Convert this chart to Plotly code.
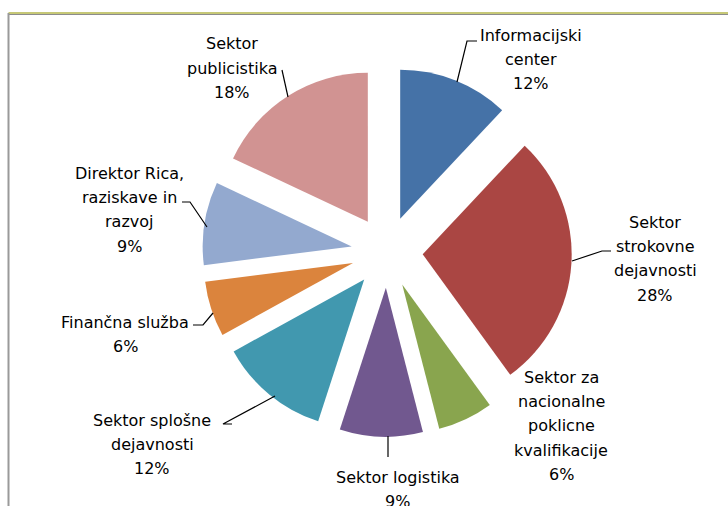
import plotly.graph_objects as go

W, H = 728, 506

labels = [
    "Informacijski center",
    "Sektor strokovne dejavnosti",
    "Sektor za nacionalne poklicne kvalifikacije",
    "Sektor logistika",
    "Sektor splošne dejavnosti",
    "Finančna služba",
    "Direktor Rica, raziskave in razvoj",
    "Sektor publicistika",
]
values = [12, 28, 6, 9, 12, 6, 9, 18]
label_lines = [
    ["Informacijski", "center"],
    ["Sektor", "strokovne", "dejavnosti"],
    ["Sektor za", "nacionalne", "poklicne", "kvalifikacije"],
    ["Sektor logistika"],
    ["Sektor splošne", "dejavnosti"],
    ["Finančna služba"],
    ["Direktor Rica,", "raziskave in", "razvoj"],
    ["Sektor", "publicistika"],
]
colors = ["#4572A7", "#AA4643", "#89A54E", "#71588F",
          "#4198AF", "#DB843D", "#93A9CF", "#D19392"]

# label placement: centre x and first-line y (pixels)
label_pos = [(531, 35), (655, 222), (561, 377), (398, 477),
             (152, 420), (125, 322), (129, 173), (232, 44)]
LINE_STEP = 24.4
leaders = [
    [(477, 41), (467, 41), (457, 82)],
    [(611, 251), (602, 251), (572, 261)],
    None,
    [(388, 457), (388, 436)],
    [(232, 424), (223, 424), (275, 396)],
    [(193, 325), (203, 325), (213, 313)],
    [(182, 202), (190, 202), (207, 227)],
    [(282, 70), (288, 97)],
]


def px(x, y):
    return x / W, 1 - y / H


fig = go.Figure(go.Pie(
    labels=labels,
    values=values,
    sort=False,
    direction="clockwise",
    rotation=0,
    pull=0.24,
    marker=dict(colors=colors, line=dict(width=0)),
    textinfo="none",
    hoverinfo="label+percent",
    domain=dict(x=[202 / W, 572 / W], y=[1 - 436.8 / H, 1 - 67.3 / H]),
    showlegend=False,
))

total = sum(values)
annotations = []
for lines, v, (cx, cy) in zip(label_lines, values, label_pos):
    pct = f"{round(100 * v / total)}%"
    for i, line in enumerate(lines + [pct]):
        x, y = px(cx, cy + i * LINE_STEP)
        annotations.append(dict(
            x=x, y=y, xref="paper", yref="paper", text=line,
            showarrow=False, xanchor="center", yanchor="middle", align="center",
            font=dict(family="DejaVu Sans", size=16, color="#000000"),
        ))

shapes = []
for path in leaders:
    if not path:
        continue
    pts = [px(*p) for p in path]
    d = "M " + " L ".join(f"{a},{b}" for a, b in pts)
    shapes.append(dict(type="path", xref="paper", yref="paper", path=d,
                       line=dict(color="#000000", width=1.2)))

# chart area border (top olive/gray, left gray)
x0, y0 = px(8.5, 13)
shapes.append(dict(type="line", xref="paper", yref="paper", x0=x0, x1=1.01, y0=y0, y1=y0,
                   line=dict(color="#B3B64A", width=1.5)))
xa, ya = px(8.5, 14.5)
shapes.append(dict(type="line", xref="paper", yref="paper", x0=xa, x1=1.01, y0=ya, y1=ya,
                   line=dict(color="#8C8C8C", width=1)))
xl, yt = px(8.5, 13)
shapes.append(dict(type="line", xref="paper", yref="paper", x0=xl, x1=xl, y0=yt, y1=-0.01,
                   line=dict(color="#9A9A9A", width=2)))

fig.update_layout(
    width=W, height=H,
    margin=dict(l=0, r=0, t=0, b=0),
    paper_bgcolor="white",
    plot_bgcolor="white",
    annotations=annotations,
    shapes=shapes,
)

fig.write_html("out.html",
               config={"displayModeBar": False},
               post_script="document.body.style.margin='0';document.body.style.overflow='hidden';")
